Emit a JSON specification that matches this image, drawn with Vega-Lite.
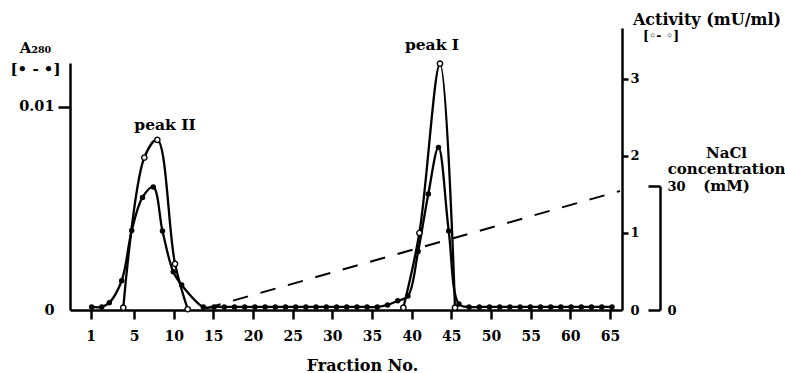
{
  "$schema": "https://vega.github.io/schema/vega-lite/v6.json",
  "width": 552,
  "height": 282,
  "autosize": "none",
  "padding": {"left": 70, "top": 28, "right": 163, "bottom": 63},
  "background": "white",
  "config": {
    "view": {"stroke": null},
    "axis": {
      "labelFont": "DejaVu Serif", "labelFontWeight": "bold", "labelColor": "black", "labelFontSize": 14,
      "titleFont": "DejaVu Serif", "titleFontWeight": "bold", "titleColor": "black", "titleFontSize": 16,
      "domainColor": "black", "domainWidth": 2.5, "tickColor": "black", "tickWidth": 2.5,
      "grid": false, "labelFlush": false, "labelOverlap": false, "labelBound": false
    },
    "text": {"font": "DejaVu Serif", "fontWeight": "bold", "color": "black"}
  },
  "datasets": {
    "a280": [
      {"f": 1.09, "a": 0.00015}, {"f": 2.02, "a": 0.00015}, {"f": 2.72, "a": 0.00036}, {"f": 3.86, "a": 0.00144},
      {"f": 4.79, "a": 0.00391}, {"f": 6.07, "a": 0.00554}, {"f": 7.43, "a": 0.00605}, {"f": 8.59, "a": 0.00389},
      {"f": 9.95, "a": 0.00188}, {"f": 11.01, "a": 0.00123}, {"f": 13.74, "a": 0.00015}, {"f": 15.10, "a": 0.00015},
      {"f": 16.38, "a": 0.00015}, {"f": 17.67, "a": 0.00015}, {"f": 18.95, "a": 0.00015}, {"f": 20.24, "a": 0.00015},
      {"f": 21.53, "a": 0.00015}, {"f": 22.81, "a": 0.00015}, {"f": 24.10, "a": 0.00015}, {"f": 25.38, "a": 0.00015},
      {"f": 26.67, "a": 0.00015}, {"f": 27.95, "a": 0.00015}, {"f": 29.24, "a": 0.00015}, {"f": 30.53, "a": 0.00015},
      {"f": 31.81, "a": 0.00015}, {"f": 33.10, "a": 0.00015}, {"f": 34.38, "a": 0.00015}, {"f": 35.67, "a": 0.00015},
      {"f": 36.96, "a": 0.00025}, {"f": 38.24, "a": 0.00045}, {"f": 39.53, "a": 0.00069}, {"f": 40.81, "a": 0.00288},
      {"f": 42.10, "a": 0.00571}, {"f": 43.38, "a": 0.0080}, {"f": 44.67, "a": 0.00389}, {"f": 45.96, "a": 0.0003},
      {"f": 47.24, "a": 0.00015}, {"f": 48.53, "a": 0.00015}, {"f": 49.81, "a": 0.00015}, {"f": 51.10, "a": 0.00015},
      {"f": 52.38, "a": 0.00015}, {"f": 53.67, "a": 0.00015}, {"f": 54.96, "a": 0.00015}, {"f": 56.24, "a": 0.00015},
      {"f": 57.53, "a": 0.00015}, {"f": 58.81, "a": 0.00015}, {"f": 60.10, "a": 0.00015}, {"f": 61.38, "a": 0.00015},
      {"f": 62.67, "a": 0.00015}, {"f": 63.96, "a": 0.00015}, {"f": 65.25, "a": 0.00015}
    ],
    "activity": [
      {"f": 4.01, "v": 0.03, "seg": "II"}, {"f": 6.30, "v": 1.98, "seg": "II"}, {"f": 7.94, "v": 2.21, "seg": "II"},
      {"f": 10.17, "v": 0.6, "seg": "II"}, {"f": 11.77, "v": 0.01, "seg": "II"},
      {"f": 38.95, "v": 0.03, "seg": "I"}, {"f": 40.97, "v": 1.0, "seg": "I"}, {"f": 43.57, "v": 3.2, "seg": "I"},
      {"f": 45.46, "v": 0.03, "seg": "I"}
    ],
    "nacl": [
      {"f": 13.32, "n": 0}, {"f": 66.26, "n": 28.8}
    ]
  },
  "layer": [
    {
      "data": {"name": "nacl"},
      "mark": {"type": "line", "color": "black", "strokeWidth": 2, "strokeDash": [15.6, 12.9], "strokeDashOffset": 22.7},
      "encoding": {
        "x": {"field": "f", "type": "quantitative",
          "scale": {"domain": [-0.912, 1, 5, 65, 66.513], "range": [0, 20.7, 64, 540, 552]},
          "axis": {"values": [1, 5, 10, 15, 20, 25, 30, 35, 40, 45, 50, 55, 60, 65], "format": "d", "tickSize": 9, "labelPadding": 10,
            "labelFontSize": 14, "title": "Fraction No.", "titleFontSize": 16, "titleAlign": "center", "titleBaseline": "alphabetic",
            "titleX": 292, "titleY": 60}},
        "y": {"field": "n", "type": "quantitative", "scale": {"domain": [0, 30], "range": [282, 158]},
          "axis": {"orient": "right", "offset": 38, "values": [0, 30], "tickSize": -12, "labelPadding": 19, "labelFontSize": 13,
            "title": ["NaCl", "concentration", "(mM)"], "titleAngle": 0, "titleAlign": "center", "titleBaseline": "alphabetic",
            "titleX": 66, "titleY": 129, "titleLineHeight": 16.5, "titleFontSize": 15}}
      }
    },
    {
      "data": {"name": "a280"},
      "encoding": {
        "x": {"field": "f", "type": "quantitative",
          "scale": {"domain": [-0.912, 1, 5, 65, 66.513], "range": [0, 20.7, 64, 540, 552]},
          "axis": {"values": [1, 5, 10, 15, 20, 25, 30, 35, 40, 45, 50, 55, 60, 65], "format": "d", "tickSize": 9, "labelPadding": 10,
            "labelFontSize": 14, "title": "Fraction No.", "titleFontSize": 16, "titleAlign": "center", "titleBaseline": "alphabetic",
            "titleX": 292, "titleY": 60}},
        "y": {"field": "a", "type": "quantitative", "scale": {"domain": [0, 0.01215], "range": [282, 35]},
          "axis": {"orient": "left", "values": [0, 0.01], "labelExpr": "datum.value === 0 ? '0' : '0.01'", "tickSize": 12, "labelPadding": 4,
            "labelFontSize": 14.5, "tickOpacity": {"condition": {"test": "datum.value === 0", "value": 0}, "value": 1},
            "title": ["A₂₈₀", "[• - •]"], "titleAngle": 0, "titleAlign": "center", "titleBaseline": "alphabetic",
            "titleX": -35, "titleY": 24, "titleLineHeight": 21, "titleFontSize": 15}}
      },
      "layer": [
        {"mark": {"type": "line", "color": "black", "strokeWidth": 2.3, "interpolate": "catmull-rom"}},
        {"mark": {"type": "point", "shape": "circle", "filled": true, "color": "black", "size": 30, "opacity": 1}}
      ]
    },
    {
      "data": {"name": "activity"},
      "layer": [
        {
          "mark": {"type": "line", "color": "black", "strokeWidth": 2.3, "interpolate": "catmull-rom"},
          "encoding": {
            "x": {"field": "f", "type": "quantitative",
              "scale": {"domain": [-0.912, 1, 5, 65, 66.513], "range": [0, 20.7, 64, 540, 552]},
              "axis": {"values": [1, 5, 10, 15, 20, 25, 30, 35, 40, 45, 50, 55, 60, 65], "format": "d", "tickSize": 9, "labelPadding": 10,
                "labelFontSize": 14, "title": "Fraction No.", "titleFontSize": 16, "titleAlign": "center", "titleBaseline": "alphabetic",
                "titleX": 292, "titleY": 60}},
            "y": {"field": "v", "type": "quantitative", "scale": {"domain": [0, 3.662]},
              "axis": {"orient": "right", "values": [0, 1, 2, 3], "tickSize": 6, "labelPadding": 2, "labelFontSize": 13,
                "tickOpacity": {"condition": {"test": "datum.value === 0", "value": 0}, "value": 1},
                "title": "Activity (mU/ml)", "titleAngle": 0, "titleAlign": "center", "titleBaseline": "alphabetic",
                "titleX": 84.5, "titleY": -3.5, "titleFontSize": 16}},
            "detail": {"field": "seg", "type": "nominal"}
          }
        },
        {
          "mark": {"type": "point", "shape": "circle", "filled": true, "fill": "white", "stroke": "black", "strokeWidth": 1.4, "size": 28, "opacity": 1},
          "encoding": {
            "x": {"field": "f", "type": "quantitative",
              "scale": {"domain": [-0.912, 1, 5, 65, 66.513], "range": [0, 20.7, 64, 540, 552]},
              "axis": {"values": [1, 5, 10, 15, 20, 25, 30, 35, 40, 45, 50, 55, 60, 65], "format": "d", "tickSize": 9, "labelPadding": 10,
                "labelFontSize": 14, "title": "Fraction No.", "titleFontSize": 16, "titleAlign": "center", "titleBaseline": "alphabetic",
                "titleX": 292, "titleY": 60}},
            "y": {"field": "v", "type": "quantitative", "scale": {"domain": [0, 3.662]},
              "axis": {"orient": "right", "values": [0, 1, 2, 3], "tickSize": 6, "labelPadding": 2, "labelFontSize": 13,
                "tickOpacity": {"condition": {"test": "datum.value === 0", "value": 0}, "value": 1},
                "title": "Activity (mU/ml)", "titleAngle": 0, "titleAlign": "center", "titleBaseline": "alphabetic",
                "titleX": 84.5, "titleY": -3.5, "titleFontSize": 16}}
          }
        },
        {
          "transform": [{"aggregate": [{"op": "count", "as": "n"}]}],
          "mark": {"type": "text", "text": "peak II", "fontSize": 15.5, "baseline": "middle", "align": "center"},
          "encoding": {
            "x": {"datum": 8.91, "type": "quantitative",
              "scale": {"domain": [-0.912, 1, 5, 65, 66.513], "range": [0, 20.7, 64, 540, 552]},
              "axis": {"values": [1, 5, 10, 15, 20, 25, 30, 35, 40, 45, 50, 55, 60, 65], "format": "d", "tickSize": 9, "labelPadding": 10,
                "labelFontSize": 14, "title": "Fraction No.", "titleFontSize": 16, "titleAlign": "center", "titleBaseline": "alphabetic",
                "titleX": 292, "titleY": 60}},
            "y": {"datum": 2.40, "type": "quantitative", "scale": {"domain": [0, 3.662]},
              "axis": {"orient": "right", "values": [0, 1, 2, 3], "tickSize": 6, "labelPadding": 2, "labelFontSize": 13,
                "tickOpacity": {"condition": {"test": "datum.value === 0", "value": 0}, "value": 1},
                "title": "Activity (mU/ml)", "titleAngle": 0, "titleAlign": "center", "titleBaseline": "alphabetic",
                "titleX": 84.5, "titleY": -3.5, "titleFontSize": 16}}
          }
        },
        {
          "transform": [{"aggregate": [{"op": "count", "as": "n"}]}],
          "mark": {"type": "text", "text": "peak I", "fontSize": 15.5, "baseline": "middle", "align": "center"},
          "encoding": {
            "x": {"datum": 42.56, "type": "quantitative",
              "scale": {"domain": [-0.912, 1, 5, 65, 66.513], "range": [0, 20.7, 64, 540, 552]},
              "axis": {"values": [1, 5, 10, 15, 20, 25, 30, 35, 40, 45, 50, 55, 60, 65], "format": "d", "tickSize": 9, "labelPadding": 10,
                "labelFontSize": 14, "title": "Fraction No.", "titleFontSize": 16, "titleAlign": "center", "titleBaseline": "alphabetic",
                "titleX": 292, "titleY": 60}},
            "y": {"datum": 3.44, "type": "quantitative", "scale": {"domain": [0, 3.662]},
              "axis": {"orient": "right", "values": [0, 1, 2, 3], "tickSize": 6, "labelPadding": 2, "labelFontSize": 13,
                "tickOpacity": {"condition": {"test": "datum.value === 0", "value": 0}, "value": 1},
                "title": "Activity (mU/ml)", "titleAngle": 0, "titleAlign": "center", "titleBaseline": "alphabetic",
                "titleX": 84.5, "titleY": -3.5, "titleFontSize": 16}}
          }
        },
        {
          "transform": [{"aggregate": [{"op": "count", "as": "n"}]}],
          "mark": {"type": "text", "text": "[◦- ◦]", "fontSize": 12.5, "baseline": "middle", "align": "center"},
          "encoding": {
            "x": {"datum": 71.43, "type": "quantitative",
              "scale": {"domain": [-0.912, 1, 5, 65, 66.513], "range": [0, 20.7, 64, 540, 552]},
              "axis": {"values": [1, 5, 10, 15, 20, 25, 30, 35, 40, 45, 50, 55, 60, 65], "format": "d", "tickSize": 9, "labelPadding": 10,
                "labelFontSize": 14, "title": "Fraction No.", "titleFontSize": 16, "titleAlign": "center", "titleBaseline": "alphabetic",
                "titleX": 292, "titleY": 60}},
            "y": {"datum": 3.56, "type": "quantitative", "scale": {"domain": [0, 3.662]},
              "axis": {"orient": "right", "values": [0, 1, 2, 3], "tickSize": 6, "labelPadding": 2, "labelFontSize": 13,
                "tickOpacity": {"condition": {"test": "datum.value === 0", "value": 0}, "value": 1},
                "title": "Activity (mU/ml)", "titleAngle": 0, "titleAlign": "center", "titleBaseline": "alphabetic",
                "titleX": 84.5, "titleY": -3.5, "titleFontSize": 16}}
          }
        }
      ]
    }
  ],
  "resolve": {"scale": {"y": "independent"}, "axis": {"y": "independent"}}
}
